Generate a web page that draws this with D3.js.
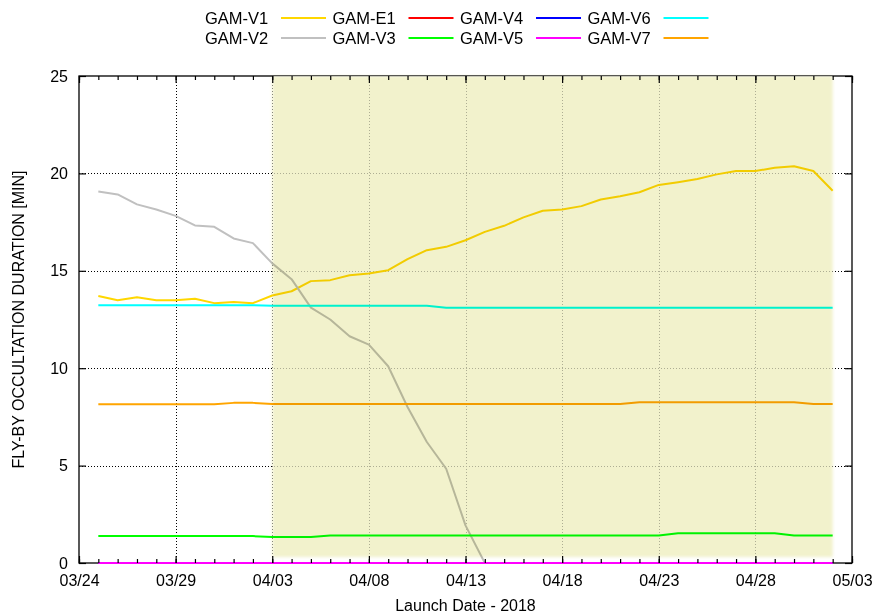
<!DOCTYPE html>
<html>
<head>
<meta charset="utf-8">
<script src="https://cdn.jsdelivr.net/npm/d3@7"></script>
<style>
  html, body { margin: 0; padding: 0; background: #fff; }
  svg { display: block; font-family: "Liberation Sans", Arial, sans-serif; }
</style>
</head>
<body>
<svg id="chart" width="875" height="616"></svg>
<script>
// Launch dates (one sample per day)
const launchDates = [
  "2018-03-25","2018-03-26","2018-03-27","2018-03-28","2018-03-29","2018-03-30","2018-03-31",
  "2018-04-01","2018-04-02","2018-04-03","2018-04-04","2018-04-05","2018-04-06","2018-04-07",
  "2018-04-08","2018-04-09","2018-04-10","2018-04-11","2018-04-12","2018-04-13","2018-04-14",
  "2018-04-15","2018-04-16","2018-04-17","2018-04-18","2018-04-19","2018-04-20","2018-04-21",
  "2018-04-22","2018-04-23","2018-04-24","2018-04-25","2018-04-26","2018-04-27","2018-04-28",
  "2018-04-29","2018-04-30","2018-05-01","2018-05-02"
];

// Fly-by occultation duration [min] per target
const gamV1 = [13.71,13.49,13.64,13.49,13.49,13.56,13.34,13.40,13.34,13.73,13.95,14.47,14.52,14.77,
  14.86,15.03,15.60,16.06,16.23,16.57,17.00,17.31,17.74,18.08,18.15,18.32,18.66,18.83,19.03,19.41,
  19.55,19.71,19.95,20.12,20.12,20.29,20.37,20.12,19.11];
const gamV2 = [19.07,18.92,18.41,18.15,17.82,17.33,17.26,16.66,16.42,15.38,14.57,13.11,12.50,11.64,
  11.21,10.10,8.01,6.21,4.84,1.93,0,0,0,0,0,0,0,0,0,0,0,0,0,0,0,0,0,0,0];
const gamE1 = [0,0,0,0,0,0,0,0,0,0,0,0,0,0,0,0,0,0,0,0,0,0,0,0,0,0,0,0,0,0,0,0,0,0,0,0,0,0,0];
const gamV3 = [1.38,1.38,1.38,1.38,1.38,1.38,1.38,1.38,1.38,1.33,1.33,1.33,1.41,1.41,1.41,1.41,1.41,
  1.41,1.41,1.41,1.41,1.41,1.41,1.41,1.41,1.41,1.41,1.41,1.41,1.41,1.53,1.53,1.53,1.53,1.53,1.53,
  1.41,1.41,1.41];
const gamV4 = [0,0,0,0,0,0,0,0,0,0,0,0,0,0,0,0,0,0,0,0,0,0,0,0,0,0,0,0,0,0,0,0,0,0,0,0,0,0,0];
const gamV5 = [0,0,0,0,0,0,0,0,0,0,0,0,0,0,0,0,0,0,0,0,0,0,0,0,0,0,0,0,0,0,0,0,0,0,0,0,0,0,0];
const gamV6 = [13.23,13.23,13.23,13.23,13.23,13.23,13.23,13.23,13.23,13.20,13.20,13.20,13.20,13.20,
  13.20,13.20,13.20,13.20,13.10,13.10,13.10,13.10,13.10,13.10,13.10,13.10,13.10,13.10,13.10,13.10,
  13.10,13.10,13.10,13.10,13.10,13.10,13.10,13.10,13.10];
const gamV7 = [8.15,8.15,8.15,8.15,8.15,8.15,8.15,8.22,8.22,8.16,8.16,8.16,8.16,8.16,8.16,8.16,8.16,
  8.16,8.16,8.16,8.16,8.16,8.16,8.16,8.16,8.16,8.16,8.16,8.25,8.25,8.25,8.25,8.25,8.25,8.25,8.25,
  8.25,8.16,8.16];

// Axis ticks
const xTickLabels = ["03/24","03/29","04/03","04/08","04/13","04/18","04/23","04/28","05/03"];
const yTicks = [0, 5, 10, 15, 20, 25];

// Highlighted launch window
const windowStart = "2018-04-03";
const windowEnd = "2018-05-02";

// Legend layout (row-major, as printed)
const legendOrder = ["GAM-V1","GAM-E1","GAM-V4","GAM-V6","GAM-V2","GAM-V3","GAM-V5","GAM-V7"];

const series = [
  { name: "GAM-V1", values: gamV1, color: "#ffd700" },
  { name: "GAM-V2", values: gamV2, color: "#c0c0c0" },
  { name: "GAM-E1", values: gamE1, color: "#ff0000" },
  { name: "GAM-V3", values: gamV3, color: "#00ff00" },
  { name: "GAM-V4", values: gamV4, color: "#0000ff" },
  { name: "GAM-V5", values: gamV5, color: "#ff00ff" },
  { name: "GAM-V6", values: gamV6, color: "#00ffff" },
  { name: "GAM-V7", values: gamV7, color: "#ffa500" }
];

const svg = d3.select("#chart");
const W = 875, H = 616;
const margin = { left: 79, right: 23, top: 76, bottom: 53 };
const plotW = W - margin.left - margin.right;
const plotH = H - margin.top - margin.bottom;

const parse = d3.utcParse("%Y-%m-%d");
const parseTick = s => parse("2018-" + s.replace("/", "-"));

const x = d3.scaleUtc()
  .domain([parseTick(xTickLabels[0]), parseTick(xTickLabels[xTickLabels.length - 1])])
  .range([margin.left, margin.left + plotW]);
const y = d3.scaleLinear().domain([0, 25]).range([margin.top + plotH, margin.top]);

const majorTicks = xTickLabels.map(parseTick);
const minorTicks = d3.utcDay.range(x.domain()[0], d3.utcDay.offset(x.domain()[1], 1));

svg.append("rect").attr("width", W).attr("height", H).attr("fill", "#fff");

// Plot frame
svg.append("rect")
  .attr("x", margin.left).attr("y", margin.top)
  .attr("width", plotW).attr("height", plotH)
  .attr("fill", "none").attr("stroke", "#000").attr("stroke-width", 1.3);

// Dotted grid
const grid = svg.append("g").attr("stroke", "#000").attr("stroke-width", 1)
  .attr("stroke-dasharray", "1,2");
grid.selectAll("line.gx").data(majorTicks.slice(1, -1)).join("line")
  .attr("x1", d => Math.round(x(d)) + 0.5).attr("x2", d => Math.round(x(d)) + 0.5)
  .attr("y1", margin.top).attr("y2", margin.top + plotH);
grid.selectAll("line.gy").data(yTicks.slice(1, -1)).join("line")
  .attr("x1", margin.left).attr("x2", margin.left + plotW)
  .attr("y1", d => Math.round(y(d)) + 0.5).attr("y2", d => Math.round(y(d)) + 0.5);

// Launch window geometry
const wx0 = x(parse(windowStart)), wx1 = x(parse(windowEnd));
const wy0 = margin.top, wy1 = y(0) - 6;

// Soften the grid inside the window
svg.append("rect")
  .attr("x", wx0).attr("y", wy0).attr("width", wx1 - wx0).attr("height", wy1 - wy0)
  .attr("fill", "#fff").attr("opacity", 0.72);

// Data lines
const line = d3.line()
  .x((d, i) => x(parse(launchDates[i])))
  .y(d => y(d));
svg.append("g").selectAll("path").data(series).join("path")
  .attr("d", d => line(d.values))
  .attr("fill", "none")
  .attr("stroke", d => d.color)
  .attr("stroke-width", 2)
  .attr("stroke-linejoin", "round");

// Window tint
const defs = svg.append("defs");
defs.append("filter").attr("id", "soft").attr("x", "-5%").attr("y", "-5%")
  .attr("width", "110%").attr("height", "110%")
  .append("feGaussianBlur").attr("stdDeviation", 1.5);
svg.append("rect")
  .attr("x", wx0).attr("y", wy0).attr("width", wx1 - wx0).attr("height", wy1 - wy0)
  .attr("fill", "#f2f2cc")
  .attr("filter", "url(#soft)")
  .style("mix-blend-mode", "multiply");

// Axes (ticks point inward)
const fontSize = "16px";
const bottomMajor = svg.append("g").attr("transform", `translate(0,${y(0)})`)
  .call(d3.axisBottom(x).tickValues(majorTicks).tickFormat(d3.utcFormat("%m/%d"))
    .tickSizeInner(-7).tickSizeOuter(0).tickPadding(9));
svg.append("g").attr("transform", `translate(0,${y(0)})`)
  .call(d3.axisBottom(x).tickValues(minorTicks).tickFormat("").tickSizeInner(-4).tickSizeOuter(0));
svg.append("g").attr("transform", `translate(0,${margin.top})`)
  .call(d3.axisTop(x).tickValues(majorTicks).tickFormat("").tickSizeInner(-7).tickSizeOuter(0));
svg.append("g").attr("transform", `translate(0,${margin.top})`)
  .call(d3.axisTop(x).tickValues(minorTicks).tickFormat("").tickSizeInner(-4).tickSizeOuter(0));
svg.append("g").attr("transform", `translate(${margin.left},0)`)
  .call(d3.axisLeft(y).tickValues(yTicks).tickFormat(d3.format("d"))
    .tickSizeInner(-7).tickSizeOuter(0).tickPadding(11));
svg.append("g").attr("transform", `translate(${margin.left + plotW},0)`)
  .call(d3.axisRight(y).tickValues(yTicks).tickFormat("").tickSizeInner(-7).tickSizeOuter(0));

svg.selectAll(".domain").remove();
svg.selectAll(".tick line").attr("stroke", "#000").attr("stroke-width", 1.2);
svg.selectAll(".tick text")
  .attr("font-family", "'Liberation Sans', Arial, sans-serif")
  .attr("font-size", fontSize).attr("fill", "#000");
bottomMajor.selectAll(".tick text").attr("dy", "0.9em");

// Axis titles
svg.append("text")
  .attr("x", margin.left + plotW / 2).attr("y", 611)
  .attr("text-anchor", "middle").attr("font-size", fontSize)
  .text("Launch Date - 2018");
svg.append("text")
  .attr("transform", `translate(24,${margin.top + plotH / 2}) rotate(-90)`)
  .attr("text-anchor", "middle").attr("font-size", fontSize)
  .text("FLY-BY OCCULTATION DURATION [MIN]");

// Legend
const colorOf = Object.fromEntries(series.map(s => [s.name, s.color]));
const legend = svg.append("g");
legendOrder.forEach((name, i) => {
  const col = i % 4, row = Math.floor(i / 4);
  const lx = 205 + col * 127.5, ly = 18 + row * 20;
  legend.append("text")
    .attr("x", lx).attr("y", ly).attr("dy", "0.35em")
    .attr("font-size", "16.5px").text(name);
  legend.append("line")
    .attr("x1", lx + 76).attr("x2", lx + 121)
    .attr("y1", ly).attr("y2", ly)
    .attr("stroke", colorOf[name]).attr("stroke-width", 2);
});
</script>
</body>
</html>
